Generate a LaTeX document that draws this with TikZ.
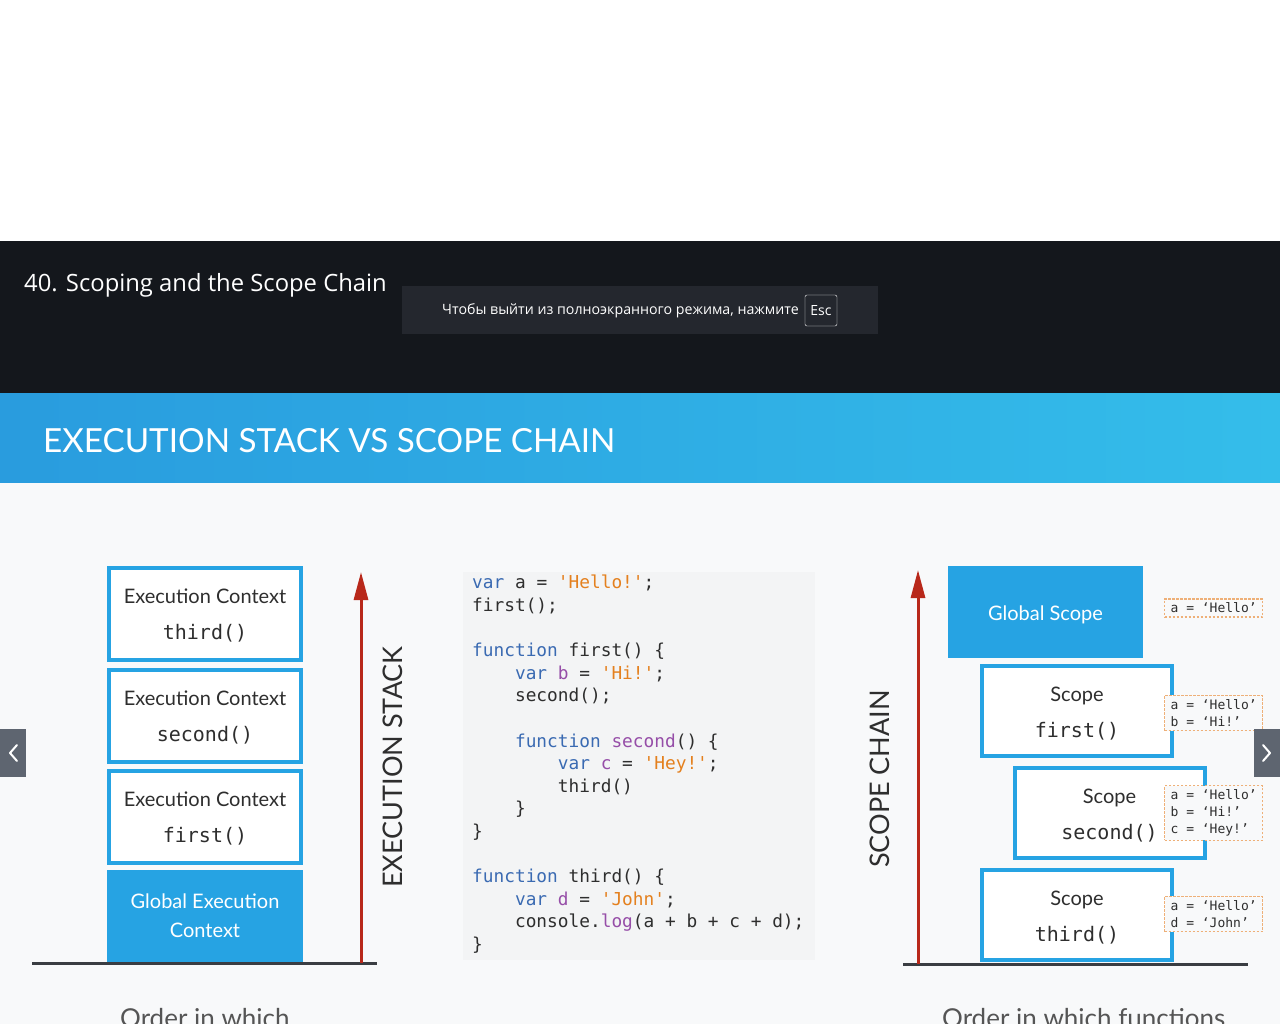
\documentclass[tikz,border=0pt]{standalone}
\usepackage{fontspec}
\setmainfont{Lato}
\setmonofont{DejaVu Sans Mono}
\newfontfamily\uifont{Open Sans}
\usetikzlibrary{arrows.meta,positioning}

\definecolor{topbar}{RGB}{20,23,28}
\definecolor{noticebg}{RGB}{36,39,46}
\definecolor{bandleft}{RGB}{41,156,222}
\definecolor{bandright}{RGB}{52,189,234}
\definecolor{slidebg}{RGB}{248,249,250}
\definecolor{codebg}{RGB}{243,244,245}
\definecolor{ctxblue}{RGB}{38,163,227}
\definecolor{stackred}{RGB}{184,40,26}
\definecolor{floorgrey}{RGB}{58,61,66}
\definecolor{kwblue}{RGB}{58,106,178}
\definecolor{varpurple}{RGB}{150,78,168}
\definecolor{strorange}{RGB}{228,128,30}
\definecolor{codetext}{RGB}{46,46,46}
\definecolor{varsedge}{RGB}{238,176,120}
\definecolor{navgrey}{RGB}{94,101,112}
\definecolor{captiongrey}{RGB}{85,85,85}

\newcommand{\jskw}[1]{\textcolor{kwblue}{#1}}
\newcommand{\jsvar}[1]{\textcolor{varpurple}{#1}}
\newcommand{\jsstr}[1]{\textcolor{strorange}{#1}}
\newcommand{\jsind}{\hspace*{2.408em}}
\newcommand{\boxgap}[1]{\rule{0pt}{#1}}

\tikzset{
	ctxbox/.style={draw=ctxblue, line width=4pt, fill=white, minimum width=192pt, minimum height=92pt,
		inner sep=0pt, align=center, text=codetext, font=\fontsize{20}{36}\selectfont},
	globalbox/.style={fill=ctxblue, minimum width=196pt, minimum height=92pt, inner sep=0pt,
		align=center, text=white, font=\fontsize{20}{29}\selectfont},
	scopebox/.style={ctxbox, minimum width=190pt, minimum height=90pt},
	varsbox/.style={draw=varsedge, dash pattern=on 2.5pt off 1.5pt, line width=1.3pt, fill=slidebg,
		inner xsep=5pt, inner ysep=4pt, minimum width=98pt, align=left, anchor=west,
		font=\ttfamily\fontsize{13}{17}\selectfont, text=codetext},
	stackarrow/.style={draw=stackred, line width=3pt, -{Triangle[length=28pt,width=14pt]}},
	floorline/.style={draw=floorgrey, line width=3pt},
	sidelabel/.style={rotate=90, text=codetext, font=\fontsize{27}{27}\selectfont},
	chevron/.style={draw=white, line width=2pt, line cap=round, line join=round},
}

\begin{document}
\begin{tikzpicture}[x=1pt, y=-1pt]
	\useasboundingbox (0,0) rectangle (1280,1024);
	\clip (0,0) rectangle (1280,1024);

	\fill[white] (0,0) rectangle (1280,241);
	\fill[topbar] (0,241) rectangle (1280,393);
	\shade[left color=bandleft, right color=bandright] (0,393) rectangle (1280,483);
	\fill[slidebg] (0,483) rectangle (1280,1024);

	\node[anchor=base west, inner sep=0pt, text=white, font=\uifont\fontsize{23.8}{24}\selectfont] (lessontitle) at (24,292) {40. Scoping and the Scope Chain};
	\fill[noticebg] (402,286) rectangle (878,334);
	\node[anchor=base west, inner sep=0pt, text=white, font=\uifont\fontsize{14.2}{14}\selectfont] (notice) at (442,315) {Чтобы выйти из полноэкранного режима, нажмите};
	\node[draw=white, rounded corners=2pt, minimum width=32pt, minimum height=31pt, inner sep=0pt, text=white, font=\uifont\fontsize{14}{14}\selectfont] (esckey) at (821,310.5) {Esc};

	\node[anchor=base west, inner sep=0pt, text=white, font=\fontsize{33.2}{34}\selectfont] (slidetitle) at (43,452) {EXECUTION STACK VS SCOPE CHAIN};

	% execution stack
	\node[ctxbox] (ctxthird) at (205,614) {\boxgap{18.5pt}Execution Context\\\ttfamily third()};
	\node[ctxbox] (ctxsecond) at (205,716) {\boxgap{18.5pt}Execution Context\\\ttfamily second()};
	\node[ctxbox] (ctxfirst) at (205,817) {\boxgap{18.5pt}Execution Context\\\ttfamily first()};
	\node[globalbox] (ctxglobal) at (205,916) {Global Execution\\Context};

	\coordinate (stackfloorl) at (32,963);
	\coordinate (stackfloorr) at (377,963);
	\draw[floorline] (stackfloorl) -- (stackfloorr);
	\coordinate (stackfoot) at (361,963);
	\coordinate (stacktop) at (361,572);
	\draw[stackarrow] (stackfoot) -- (stacktop);
	\node[sidelabel] (stacklabel) at (393,767) {EXECUTION STACK};

	% code
	\fill[codebg] (463,572) rectangle (815,960);
	\node[anchor=north west, inner sep=0pt, align=left, text=codetext, font=\ttfamily\fontsize{17.8}{22.6}\selectfont] (jscode) at (472,575) {%
		\jskw{var} a = \jsstr{'Hello!'};\\
		first();\\
		\mbox{}\\
		\jskw{function} first() \{\\
		\jsind\jskw{var} \jsvar{b} = \jsstr{'Hi!'};\\
		\jsind second();\\
		\mbox{}\\
		\jsind\jskw{function} \jsvar{second}() \{\\
		\jsind\jsind\jskw{var} \jsvar{c} = \jsstr{'Hey!'};\\
		\jsind\jsind third()\\
		\jsind\}\\
		\}\\
		\mbox{}\\
		\jskw{function} third() \{\\
		\jsind\jskw{var} \jsvar{d} = \jsstr{'John'};\\
		\jsind console.\jsvar{log}(a + b + c + d);\\
		\}};

	% scope chain
	\node[globalbox, minimum width=195pt] (scopeglobal) at (1045.5,612) {\boxgap{20.5pt}Global Scope};
	\node[scopebox] (scopefirst) at (1077,711) {\boxgap{20.5pt}Scope\\\ttfamily first()};
	\node[scopebox] (scopesecond) at (1109.5,813) {\boxgap{20.5pt}Scope\\\ttfamily second()};
	\node[scopebox] (scopethird) at (1077,915) {\boxgap{20.5pt}Scope\\\ttfamily third()};

	\coordinate (chainfloorl) at (903,964);
	\coordinate (chainfloorr) at (1248,964);
	\draw[floorline] (chainfloorl) -- (chainfloorr);
	\coordinate (chainfoot) at (918,964);
	\coordinate (chaintop) at (918,570);
	\draw[stackarrow] (chainfoot) -- (chaintop);
	\node[sidelabel] (chainlabel) at (880,779) {SCOPE CHAIN};

	\node[varsbox] (varsglobal) at (1164,608) {a = ‘Hello’};
	\node[varsbox] (varsfirst) at (1164,713) {a = ‘Hello’\\b = ‘Hi!’};
	\node[varsbox] (varssecond) at (1164,813) {a = ‘Hello’\\b = ‘Hi!’\\c = ‘Hey!’};
	\node[varsbox] (varsthird) at (1164,914) {a = ‘Hello’\\d = ‘John’};

	% slide arrows
	\fill[navgrey] (0,729) rectangle (26,777);
	\draw[chevron] (17,745) -- (10,753) -- (17,761);
	\fill[navgrey] (1254,729) rectangle (1280,777);
	\draw[chevron] (1263,745) -- (1270,753) -- (1263,761);

	\node[anchor=base west, inner sep=0pt, text=captiongrey, font=\fontsize{26}{26}\selectfont] (stackcaption) at (120,1027) {Order in which};
	\node[anchor=base west, inner sep=0pt, text=captiongrey, font=\fontsize{26}{26}\selectfont] (chaincaption) at (942,1027) {Order in which functions};
\end{tikzpicture}
\end{document}
